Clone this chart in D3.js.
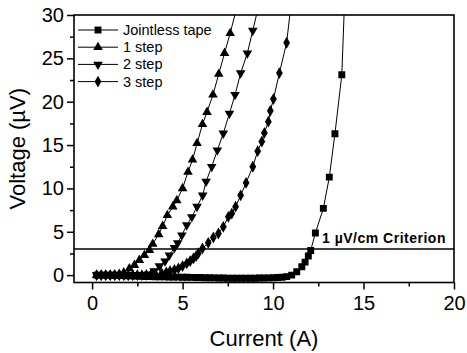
<!DOCTYPE html>
<html>
<head>
<meta charset="utf-8">
<script src="https://cdn.jsdelivr.net/npm/d3@7"></script>
<style>
  body { margin: 0; background: #fff; }
  text { font-family: "Liberation Sans", Arial, sans-serif; fill: #000; }
  .axis text { font-size: 20px; }
  .axis path { display: none; }
  .axis line { stroke: #000; stroke-width: 1.5px; }
  .curve { fill: none; stroke: #000; stroke-width: 1px; }
</style>
</head>
<body>
<div id="chart"></div>
<script>
// data: [current (A), voltage (uV)]
var jointless = [[0.25,0.0],[0.5,0.0],[0.75,0.0],[1.0,-0.01],[1.25,-0.02],[1.5,-0.03],[1.75,-0.05],
  [2.0,-0.07],[2.25,-0.09],[2.5,-0.11],[2.75,-0.13],[3.0,-0.15],[3.25,-0.16],[3.5,-0.18],[3.75,-0.19],
  [4.0,-0.2],[4.25,-0.21],[4.5,-0.22],[4.75,-0.23],[5.0,-0.24],[5.25,-0.25],[5.5,-0.26],[5.75,-0.27],
  [6.0,-0.28],[6.25,-0.3],[6.5,-0.31],[6.75,-0.32],[7.0,-0.33],[7.25,-0.34],[7.5,-0.35],[7.75,-0.36],
  [8.0,-0.37],[8.25,-0.37],[8.5,-0.37],[8.75,-0.36],[9.0,-0.35],[9.25,-0.34],[9.5,-0.33],[9.75,-0.32],
  [10.0,-0.3],[10.25,-0.28],[10.5,-0.24],[10.76,-0.17],[11.03,0.0],[11.31,0.38],[11.59,0.96],[11.77,1.5],
  [11.95,2.2],[12.08,2.85],[12.34,4.85],[12.78,7.7],[13.11,11.3],[13.42,16.3],[13.8,23.1],[13.96,32]];

var step1 = [[0.25,0.0],[0.5,0.0],[0.75,0.0],[1.0,0.02],[1.25,0.05],[1.5,0.12],[1.75,0.3],[2.06,0.77],
  [2.34,1.15],[2.61,1.73],[2.89,2.3],[3.17,2.88],[3.35,3.58],[3.68,4.7],[3.9,5.65],[4.16,6.9],[4.46,7.9],
  [4.68,8.6],[5.0,10.0],[5.3,11.9],[5.55,13.3],[5.8,15.2],[6.1,17.4],[6.35,18.8],[6.68,20.8],[7.0,23.2],
  [7.32,25.6],[7.63,27.9],[7.95,30.5]];

var step2 = [[0.25,0.0],[0.5,0.0],[0.75,0.0],[1.0,0.0],[1.25,0.0],[1.5,0.0],[1.75,0.0],[2.0,0.0],
  [2.25,0.0],[2.5,0.02],[2.75,0.04],[3.11,0.1],[3.43,0.46],[3.72,1.04],[4.03,1.6],[4.27,2.3],[4.55,3.15],
  [4.73,3.7],[4.96,4.6],[5.23,5.77],[5.51,6.7],[5.8,7.9],[6.11,9.2],[6.3,10.8],[6.61,12.5],[6.92,14.4],
  [7.25,16.35],[7.59,18.65],[7.9,20.8],[8.21,23.3],[8.58,25.6],[8.88,28.2],[9.15,30.6]];

var step3 = [[0.25,0.0],[0.5,0.0],[0.75,0.0],[1.0,0.0],[1.25,0.0],[1.5,0.0],[1.75,0.0],[2.0,0.0],
  [2.25,0.0],[2.5,0.0],[2.75,0.0],[3.0,0.02],[3.25,0.05],[3.5,0.1],[3.85,0.2],[4.1,0.33],[4.31,0.46],
  [4.55,0.6],[4.77,0.77],[5.0,1.05],[5.23,1.35],[5.42,1.62],[5.6,1.92],[5.75,2.2],[5.87,2.5],[6.1,3.08],
  [6.42,3.73],[6.7,4.35],[6.98,4.8],[7.25,5.57],[7.53,6.73],[7.72,7.1],[7.93,7.9],[8.21,9.2],[8.51,10.65],
  [8.88,12.5],[9.15,14.3],[9.38,15.4],[9.52,16.4],[9.74,17.7],[9.85,18.95],[10.02,20.3],[10.35,23.3],
  [10.75,26.8],[11.0,31.3]];

var seriesNames = ["Jointless tape", "1 step", "2 step", "3 step"];
var xTicks = [0, 5, 10, 15, 20];
var yTicks = [0, 5, 10, 15, 20, 25, 30];
var criterion = 3.0;

function init() {
    var W = 467, H = 353;
    var left = 74, right = 454, top = 15, bottom = 282.5;

    var x = d3.scaleLinear().domain([-1, 20]).range([left, right]),
        y = d3.scaleLinear().domain([-0.85, 30]).range([bottom, top]);

    var svg = d3.select("#chart").append("svg")
        .attr("width", W)
        .attr("height", H);

    svg.append("clipPath").attr("id", "plotclip")
       .append("rect")
       .attr("x", left).attr("y", top)
       .attr("width", right - left).attr("height", bottom - top);

    // minor ticks
    var minorX = d3.range(-0.0, 20.01, 2.5).filter(function(d) { return d % 5 !== 0; });
    var minorY = d3.range(2.5, 30, 5);

    svg.append("g")
       .attr("class", "x axis")
       .attr("transform", "translate(0," + bottom + ")")
       .call(d3.axisBottom(x).tickValues(minorX).tickSize(4).tickFormat(""));
    svg.append("g")
       .attr("class", "x axis")
       .attr("transform", "translate(0," + bottom + ")")
       .call(d3.axisBottom(x).tickValues(xTicks).tickSize(7).tickPadding(6));

    svg.append("g")
       .attr("class", "y axis")
       .attr("transform", "translate(" + left + ",0)")
       .call(d3.axisLeft(y).tickValues(minorY).tickSize(4).tickFormat(""));
    svg.append("g")
       .attr("class", "y axis")
       .attr("transform", "translate(" + left + ",0)")
       .call(d3.axisLeft(y).tickValues(yTicks).tickSize(7).tickPadding(3));

    // frame
    svg.append("rect")
       .attr("x", left).attr("y", top)
       .attr("width", right - left).attr("height", bottom - top)
       .attr("fill", "none").attr("stroke", "#000").attr("stroke-width", 1.6);

    // criterion line
    svg.append("line")
       .attr("x1", left).attr("x2", right)
       .attr("y1", y(criterion)).attr("y2", y(criterion))
       .attr("stroke", "#000").attr("stroke-width", 1.5);

    svg.append("text")
       .attr("x", 322)
       .attr("y", y(criterion) - 6)
       .style("font-size", "14px")
       .style("font-weight", "bold")
       .style("letter-spacing", "0.5px")
       .text("1 \u00b5V/cm Criterion");

    var line = d3.line()
        .x(function(d) { return x(d[0]); })
        .y(function(d) { return y(d[1]); });

    var symbols = [
        d3.symbol().type(d3.symbolSquare).size(48),
        d3.symbol().type(d3.symbolTriangle).size(40),
        d3.symbol().type(d3.symbolTriangle).size(40),
        d3.symbol().type(d3.symbolDiamond).size(40)
    ];
    var rotations = [0, 0, 180, 0];
    var data = [jointless, step1, step2, step3];

    var plot = svg.append("g").attr("clip-path", "url(#plotclip)");

    data.forEach(function(s, i) {
        plot.append("path")
           .datum(s)
           .attr("class", "curve")
           .attr("d", line);

        plot.selectAll(".m" + i)
           .data(s.filter(function(d) { return d[1] <= 30; }))
           .enter().append("path")
           .attr("class", "m" + i)
           .attr("d", symbols[i])
           .attr("fill", "#000")
           .attr("transform", function(d) {
               return "translate(" + x(d[0]) + "," + y(d[1]) + ") rotate(" + rotations[i] + ")";
           });
    });

    // legend
    var legend = svg.append("g");
    seriesNames.forEach(function(name, i) {
        var ly = 30 + i * 17.2;
        legend.append("line")
           .attr("x1", 78).attr("x2", 118)
           .attr("y1", ly).attr("y2", ly)
           .attr("stroke", "#000").attr("stroke-width", 1);
        legend.append("path")
           .attr("d", symbols[i])
           .attr("fill", "#000")
           .attr("transform", "translate(98," + ly + ") rotate(" + rotations[i] + ")");
        legend.append("text")
           .attr("x", 123)
           .attr("y", ly + 5)
           .style("font-size", "14.5px")
           .text(name);
    });

    // axis titles
    svg.append("text")
       .attr("x", (left + right) / 2)
       .attr("y", 346)
       .attr("text-anchor", "middle")
       .style("font-size", "22px")
       .text("Current (A)");

    svg.append("text")
       .attr("transform", "translate(25," + ((top + bottom) / 2) + ") rotate(-90)")
       .attr("text-anchor", "middle")
       .style("font-size", "22px")
       .text("Voltage (\u00b5V)");
}
init();
</script>
</body>
</html>
